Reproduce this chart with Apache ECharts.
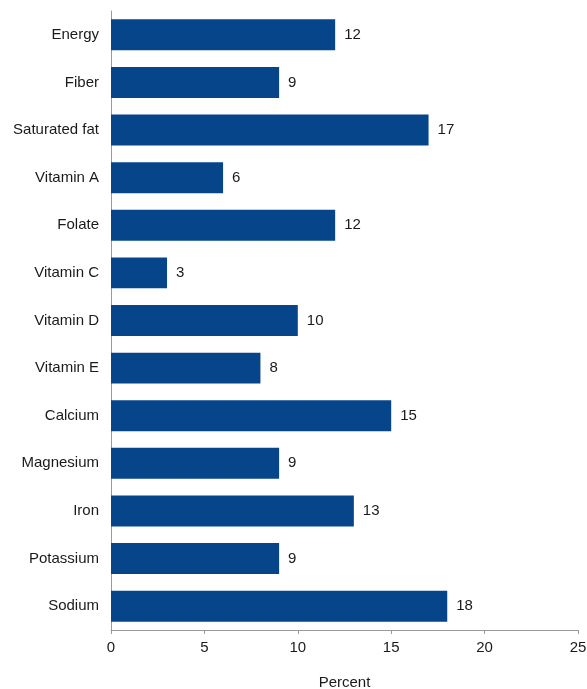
<!DOCTYPE html>
<html>
<head>
<meta charset="utf-8">
<script src="https://cdn.jsdelivr.net/npm/echarts@6/dist/echarts.min.js"></script>
<style>
  html, body { margin: 0; padding: 0; background: #fff; }
  #chart { width: 587px; height: 689px; }
</style>
</head>
<body>
<div id="chart"></div>
<script>
const categories = ['Energy', 'Fiber', 'Saturated fat', 'Vitamin A', 'Folate', 'Vitamin C',
  'Vitamin D', 'Vitamin E', 'Calcium', 'Magnesium', 'Iron', 'Potassium', 'Sodium']
const values = [12, 9, 17, 6, 12, 3, 10, 8, 15, 9, 13, 9, 18]
const xTicks = [0, 5, 10, 15, 20, 25]

const chart = echarts.init(document.getElementById('chart'))
const textColor = '#1a1a1a'
const axisColor = '#9a9a9a'
const font = 'Liberation Sans'

chart.setOption({
  animation: false,
  backgroundColor: '#fff',
  grid: { left: 111, right: 9, top: 11, bottom: 59, outerBoundsMode: 'none', containLabel: false },
  xAxis: {
    type: 'value',
    min: xTicks[0],
    max: xTicks[xTicks.length - 1],
    interval: 5,
    name: 'Percent',
    nameLocation: 'middle',
    nameGap: 45,
    nameTextStyle: { color: textColor, fontSize: 15, fontFamily: font },
    axisLine: { show: true, lineStyle: { color: axisColor } },
    axisTick: { show: true, length: 4, lineStyle: { color: axisColor } },
    axisLabel: { color: textColor, fontSize: 15, fontFamily: font, margin: 10 },
    splitLine: { show: false }
  },
  yAxis: {
    type: 'category',
    data: categories,
    inverse: true,
    axisLine: { show: true, lineStyle: { color: axisColor } },
    axisTick: { show: false },
    axisLabel: { color: textColor, fontSize: 15, fontFamily: font, margin: 12 }
  },
  series: [{
    type: 'bar',
    data: values,
    barCategoryGap: '35%',
    itemStyle: { color: '#06458a' },
    label: {
      show: true,
      position: 'right',
      distance: 9,
      color: textColor,
      fontSize: 15,
      fontFamily: font
    }
  }]
})
</script>
</body>
</html>
